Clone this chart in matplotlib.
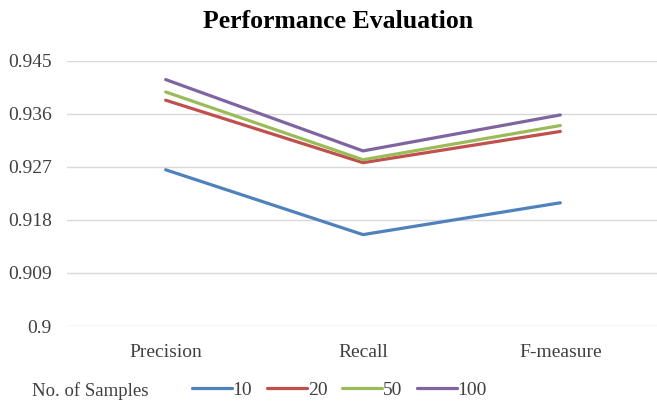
import matplotlib
matplotlib.use('Agg')
from matplotlib import pyplot as plt

plt.rcParams['font.family'] = ['Liberation Serif', 'DejaVu Serif']

categories = ['Precision', 'Recall', 'F-measure']
samples = ['10', '20', '50', '100']
vals_10 = [0.9265, 0.9155, 0.9209]
vals_20 = [0.9383, 0.9277, 0.9330]
vals_50 = [0.9397, 0.9282, 0.9340]
vals_100 = [0.9418, 0.9297, 0.9358]
yticks = [0.9, 0.909, 0.918, 0.927, 0.936, 0.945]
ytick_labels = ['0.9', '0.909', '0.918', '0.927', '0.936', '0.945']
colors = ['#4F81BD', '#C0504D', '#9BBB59', '#8064A2']

fig = plt.figure(figsize=(6.57, 4.03), dpi=100)
ax = fig.add_axes([67 / 657, 1 - 326 / 403, 590 / 657, 265.3 / 403])

x = range(len(categories))
for vals, lab, c in zip([vals_10, vals_20, vals_50, vals_100], samples, colors):
    ax.plot(x, vals, color=c, lw=2.3, label=lab, solid_capstyle='round')

ax.set_ylim(0.9, 0.945)
ax.set_xlim(-0.5, 2.49)
ax.set_yticks(yticks)
ax.set_yticklabels(ytick_labels)
ax.set_xticks(list(x))
ax.set_xticklabels(categories)
ax.grid(axis='y', color='#d9d9d9', lw=1)
ax.set_axisbelow(True)
for s in ax.spines.values():
    s.set_visible(False)
ax.tick_params(length=0, labelsize=14, colors='#404040')
ax.tick_params(axis='x', pad=13)
ax.tick_params(axis='y', pad=11)

fig.text(338 / 657, 1 - 21 / 403, 'Performance Evaluation', ha='center', va='center',
         fontsize=18.5, fontweight='bold')

fig.text(32 / 657, 1 - 391 / 403, 'No. of Samples', ha='left', va='center',
         fontsize=13.5, color='#404040')
fig.legend(loc='center left', bbox_to_anchor=(184 / 657, 1 - 390 / 403), ncol=4,
           frameon=False, fontsize=14, handlelength=2.05, handletextpad=0.05,
           columnspacing=0.75, labelcolor='#404040', borderaxespad=0)

fig.savefig('out.png', dpi=100)
